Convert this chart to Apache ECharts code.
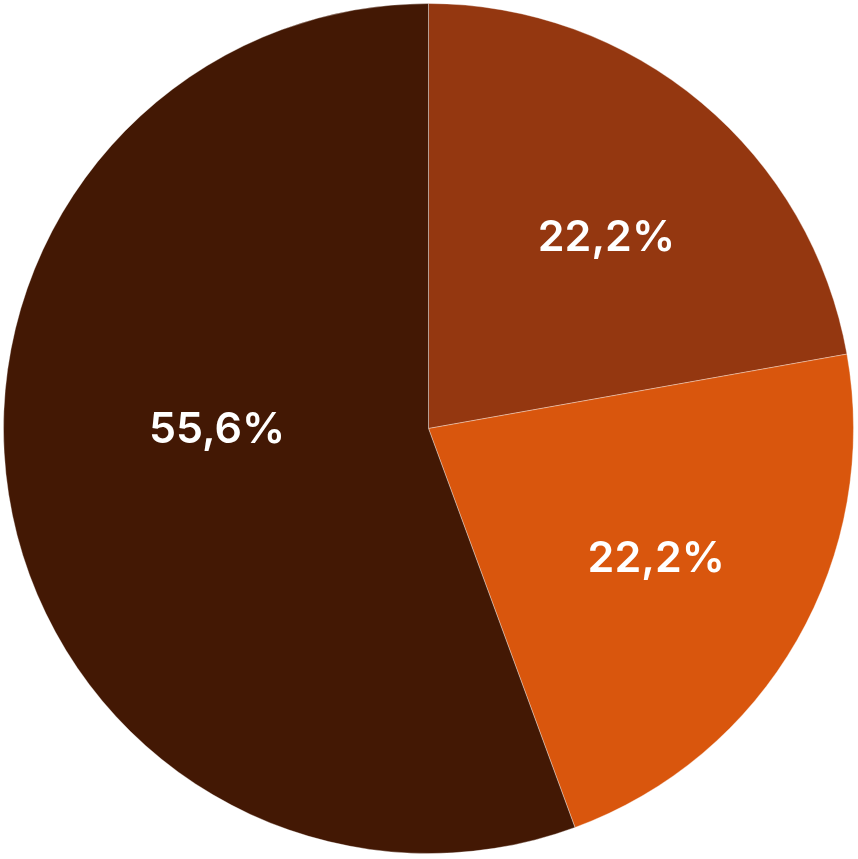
<!DOCTYPE html>
<html>
<head>
<meta charset="utf-8">
<script src="https://cdn.jsdelivr.net/npm/echarts@6/dist/echarts.min.js"></script>
<style>
html,body{margin:0;padding:0;background:#ffffff;}
#chart{width:858px;height:859px;}
</style>
</head>
<body>
<div id="chart"></div>
<script>
const categories = ['A', 'B', 'C'];
const values = [22.2, 22.2, 55.6];
const colors = ['#943710', '#d9560d', '#431804'];
const labelTexts = ['22,2%', '22,2%', '55,6%'];

const chart = echarts.init(document.getElementById('chart'), null, {renderer: 'canvas'});

const baseData = categories.map((c, i) => ({
  name: c,
  value: values[i],
  itemStyle: {color: colors[i]}
}));

const labelOffsets = [[10, 10], [1, 0], [46, -44]];
const labelData = categories.map((c, i) => ({
  name: c,
  value: values[i],
  label: {offset: labelOffsets[i]}
}));

chart.setOption({
  animation: false,
  series: [
    {
      type: 'pie',
      center: [428.5, 428.5],
      radius: [0, 425],
      startAngle: 90,
      clockwise: true,
      silent: true,
      itemStyle: {borderColor: 'rgba(255,255,255,0.35)', borderWidth: 1},
      label: {show: false},
      labelLine: {show: false},
      data: baseData
    },
    {
      type: 'pie',
      center: [428.5, 428.5],
      radius: [0, 517],
      startAngle: 90,
      clockwise: true,
      silent: true,
      itemStyle: {color: 'rgba(0,0,0,0)'},
      label: {
        show: true,
        position: 'inside',
        color: '#ffffff',
        fontFamily: 'Inter',
        fontWeight: 600,
        fontSize: 43,
        formatter: p => labelTexts[p.dataIndex]
      },
      labelLine: {show: false},
      data: labelData
    }
  ]
});
</script>
</body>
</html>
